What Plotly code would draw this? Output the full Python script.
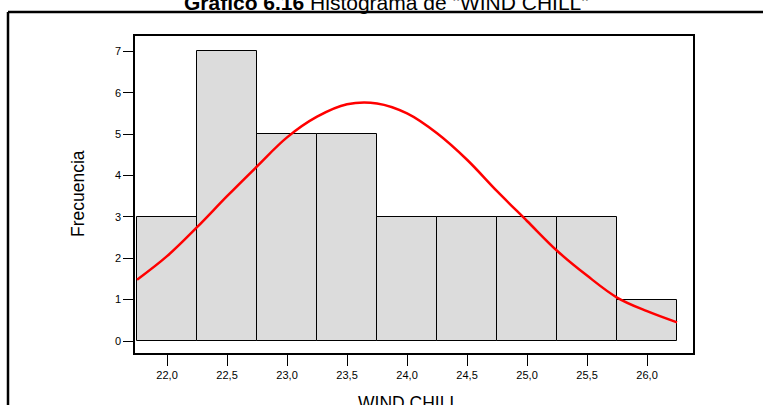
import plotly.graph_objects as go

# Data
bin_centers = [22.0, 22.5, 23.0, 23.5, 24.0, 24.5, 25.0, 25.5, 26.0]
counts = [3, 7, 5, 5, 3, 3, 3, 3, 1]
bin_width = 0.5

curve_x = [21.75, 22.0, 22.25, 22.5, 22.75, 23.0, 23.25, 23.5, 23.75, 24.0,
           24.25, 24.5, 24.75, 25.0, 25.25, 25.5, 25.75, 26.0, 26.25]
curve_y = [1.48, 2.05, 2.75, 3.5, 4.22, 4.92, 5.42, 5.72, 5.74, 5.5,
           5.02, 4.38, 3.62, 2.9, 2.18, 1.58, 1.05, 0.72, 0.45]

x_ticks = [22.0, 22.5, 23.0, 23.5, 24.0, 24.5, 25.0, 25.5, 26.0]
x_tick_labels = ["22,0", "22,5", "23,0", "23,5", "24,0", "24,5", "25,0", "25,5", "26,0"]
y_ticks = [0, 1, 2, 3, 4, 5, 6, 7]

title_text = '<b>Gráfico 6.16</b> Histograma de "WIND CHILL"'
x_title = "WIND CHILL"
y_title = "Frecuencia"

W, H = 763, 405
L, R, T, B = 135, 763 - 693, 36, 405 - 353
pw, ph = W - L - R, H - T - B

def px_x(p):
    return (p - L) / pw

def px_y(p):
    return (H - B - p) / ph

fig = go.Figure()
fig.add_trace(go.Bar(
    x=bin_centers, y=counts, width=bin_width,
    marker=dict(color="#DCDCDC", line=dict(color="black", width=1)),
    hoverinfo="skip", showlegend=False,
))
fig.add_trace(go.Scatter(
    x=curve_x, y=curve_y, mode="lines",
    line=dict(color="#FF0000", width=2.5, shape="spline"),
    showlegend=False, hoverinfo="skip",
))

font_family = "Liberation Sans, Arial, sans-serif"

fig.update_layout(
    width=W, height=H,
    margin=dict(l=L, r=R, t=T, b=B, pad=0, autoexpand=False),
    paper_bgcolor="white", plot_bgcolor="white",
    bargap=0,
    font=dict(family=font_family, color="black", size=11),
    xaxis=dict(
        range=[21.733, 26.383], tickvals=x_ticks, ticktext=x_tick_labels,
        showgrid=False, zeroline=False, showline=True, mirror=True,
        linecolor="black", linewidth=1.5, automargin=False,
        ticks="outside", ticklen=11, tickwidth=1.2, tickcolor="black",
        tickfont=dict(size=11),
    ),
    yaxis=dict(
        range=[-0.29, 7.37], tickvals=y_ticks,
        showgrid=False, zeroline=False, showline=True, mirror=True,
        linecolor="black", linewidth=1.5, automargin=False,
        ticks="outside", ticklen=10, tickwidth=1.2, tickcolor="black",
        tickfont=dict(size=11),
    ),
    shapes=[
        dict(type="line", xref="paper", yref="paper",
             x0=px_x(8), x1=px_x(770), y0=px_y(12), y1=px_y(12),
             line=dict(color="black", width=2.5)),
        dict(type="line", xref="paper", yref="paper",
             x0=px_x(8), x1=px_x(8), y0=px_y(12), y1=px_y(420),
             line=dict(color="black", width=2.5)),
    ],
    annotations=[
        dict(text=title_text,
             xref="paper", yref="paper", x=px_x(386), y=px_y(3),
             xanchor="center", yanchor="middle", showarrow=False,
             font=dict(size=21, family=font_family, color="black")),
        dict(text=x_title,
             xref="paper", yref="paper", x=px_x(408), y=px_y(403),
             xanchor="center", yanchor="middle", showarrow=False,
             font=dict(size=17.5, family=font_family, color="black")),
        dict(text=y_title, textangle=-90,
             xref="paper", yref="paper", x=px_x(78), y=px_y(194),
             xanchor="center", yanchor="middle", showarrow=False,
             font=dict(size=17.5, family=font_family, color="black")),
    ],
)

fig.write_html("out.html", config={"displayModeBar": False},
               post_script="document.body.style.margin='0px';")
